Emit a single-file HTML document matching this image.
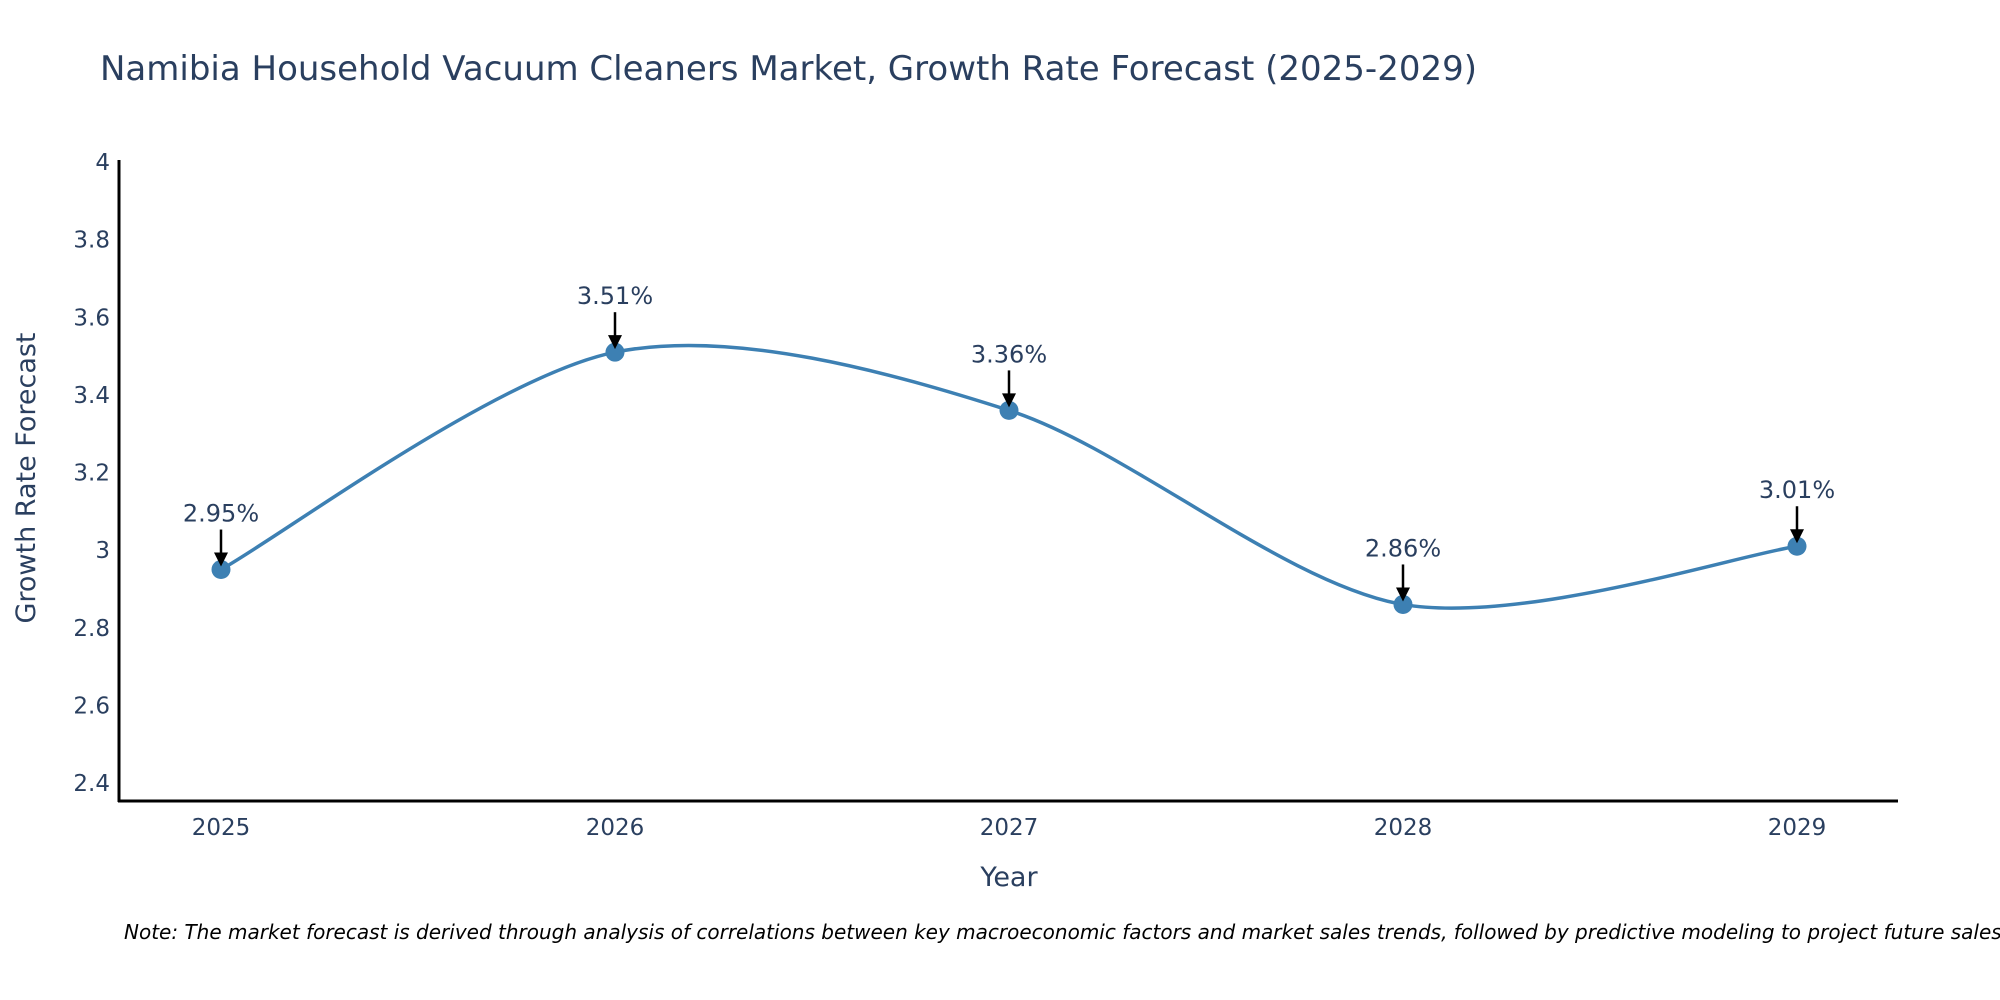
<!DOCTYPE html>
<html><head><meta charset="utf-8"><style>
html,body{margin:0;padding:0;background:#fff;width:2000px;height:1000px;overflow:hidden}
svg text{font-family:"DejaVu Sans","Liberation Sans",sans-serif;fill:#2a3f5f}
</style></head><body>
<svg id="chart" width="2000" height="1000" xmlns="http://www.w3.org/2000/svg">
<text x="100" y="80" font-size="34">Namibia Household Vacuum Cleaners Market, Growth Rate Forecast (2025-2029)</text>
<g id="yticks"></g>
<g id="xticks"></g>
<path id="line" fill="none" stroke="#3d80b3" stroke-width="3.5"></path>
<g id="points"></g>
<g id="annos"></g>
<line x1="119" y1="160" x2="119" y2="802" stroke="#000" stroke-width="3"/>
<line x1="118" y1="801" x2="1898" y2="801" stroke="#000" stroke-width="3"/>
<text transform="translate(35,478) rotate(-90)" text-anchor="middle" font-size="27">Growth Rate Forecast</text>
<text x="1009" y="886" text-anchor="middle" font-size="27">Year</text>
<text x="124" y="939" font-size="20" font-style="italic" style="fill:#000">Note: The market forecast is derived through analysis of correlations between key macroeconomic factors and market sales trends, followed by predictive modeling to project future sales.</text>
</svg>
<script>
const years=["2025","2026","2027","2028","2029"];
const values=[2.95,3.51,3.36,2.86,3.01];
const yTicks=[2.4,2.6,2.8,3,3.2,3.4,3.6,3.8,4];
const NS="http://www.w3.org/2000/svg";
function xs(i){return 221+i*394;}
function ys(v){return 162+(4-v)/1.6*621;}
const yt=document.getElementById('yticks');
yTicks.forEach(t=>{const e=document.createElementNS(NS,'text');


e.setAttribute('x',110);e.setAttribute('y',ys(t)+8);e.setAttribute('text-anchor','end');e.setAttribute('font-size','23');e.textContent=String(t);yt.appendChild(e);});
const xt=document.getElementById('xticks');
years.forEach((y,i)=>{const e=document.createElementNS(NS,'text');


e.setAttribute('x',xs(i));e.setAttribute('y',835);e.setAttribute('text-anchor','middle');e.setAttribute('font-size','23');e.textContent=y;xt.appendChild(e);});
const P=values.map((v,i)=>[xs(i),ys(v)]);
let d='M'+P[0][0]+','+P[0][1];const k=0.15;
for(let i=0;i<P.length-1;i++){const p0=P[Math.max(0,i-1)],p1=P[i],p2=P[i+1],p3=P[Math.min(P.length-1,i+2)];
const c1=[p1[0]+(p2[0]-p0[0])*k,p1[1]+(p2[1]-p0[1])*k],c2=[p2[0]-(p3[0]-p1[0])*k,p2[1]-(p3[1]-p1[1])*k];
d+=' C'+c1+' '+c2+' '+p2;}
document.getElementById('line').setAttribute('d',d);
const pg=document.getElementById('points'),ag=document.getElementById('annos');
P.forEach((p,i)=>{const c=document.createElementNS(NS,'circle');


c.setAttribute('cx',p[0]);c.setAttribute('cy',p[1]);c.setAttribute('r',9.5);c.setAttribute('fill','#3d80b3');pg.appendChild(c);
const l=document.createElementNS(NS,'line');


l.setAttribute('x1',p[0]);l.setAttribute('y1',p[1]-40);l.setAttribute('x2',p[0]);l.setAttribute('y2',p[1]-12);l.setAttribute('stroke','#000');l.setAttribute('stroke-width','2.5');ag.appendChild(l);
const h=document.createElementNS(NS,'path');


h.setAttribute('d','M'+(p[0]-7)+','+(p[1]-17)+' L'+(p[0]+7)+','+(p[1]-17)+' L'+p[0]+','+(p[1]-3)+'Z');h.setAttribute('fill','#000');ag.appendChild(h);
const t=document.createElementNS(NS,'text');


t.setAttribute('x',p[0]);t.setAttribute('y',p[1]-48);t.setAttribute('text-anchor','middle');t.setAttribute('font-size','24');t.textContent=values[i].toFixed(2)+'%';ag.appendChild(t);});
</script>
</body></html>
